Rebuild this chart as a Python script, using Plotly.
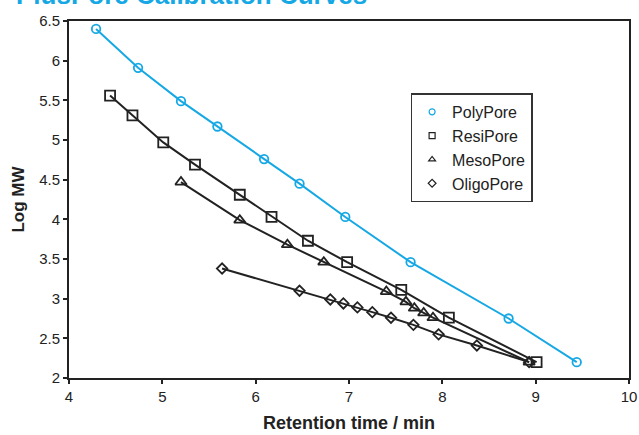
import plotly.graph_objects as go

# Data
poly_x = [4.29, 4.74, 5.20, 5.59, 6.09, 6.47, 6.96, 7.66, 8.71, 9.44]
poly_y = [6.40, 5.91, 5.49, 5.17, 4.76, 4.45, 4.03, 3.46, 2.75, 2.20]

resi_x = [4.44, 4.68, 5.01, 5.35, 5.83, 6.17, 6.56, 6.98, 7.56, 8.07, 9.01]
resi_y = [5.56, 5.31, 4.97, 4.69, 4.31, 4.03, 3.73, 3.46, 3.11, 2.76, 2.20]

meso_x = [5.20, 5.83, 6.34, 6.73, 7.40, 7.61, 7.70, 7.80, 7.90, 8.93]
meso_y = [4.47, 3.99, 3.68, 3.46, 3.09, 2.96, 2.88, 2.82, 2.76, 2.20]

oligo_x = [5.64, 6.47, 6.80, 6.94, 7.09, 7.25, 7.45, 7.69, 7.96, 8.37, 8.93]
oligo_y = [3.38, 3.10, 2.99, 2.94, 2.89, 2.83, 2.76, 2.67, 2.55, 2.41, 2.20]

x_ticks = [4, 5, 6, 7, 8, 9, 10]
y_ticks = [2, 2.5, 3, 3.5, 4, 4.5, 5, 5.5, 6, 6.5]

CYAN = "#16A8E4"
DARK = "#222222"
FONT = "Liberation Sans, Arial, sans-serif"

series = [
    ("PolyPore", poly_x, poly_y, CYAN, "circle-open", 8.5),
    ("ResiPore", resi_x, resi_y, DARK, "square-open", 10),
    ("MesoPore", meso_x, meso_y, DARK, "triangle-up-open", 10),
    ("OligoPore", oligo_x, oligo_y, DARK, "diamond-open", 8),
]

fig = go.Figure()
# draw black series first, cyan on top
for name, xs, ys, col, sym, sz in series[::-1]:
    fig.add_trace(go.Scatter(
        x=xs, y=ys, mode="lines+markers", name=name, showlegend=False,
        line=dict(color=col, width=2),
        marker=dict(symbol=sym, size=sz, color=col, line=dict(color=col, width=1.8)),
    ))
# legend-only entries with small symbols
for name, xs, ys, col, sym, sz in series:
    fig.add_trace(go.Scatter(
        x=[None], y=[None], mode="markers", name=name, showlegend=True,
        marker=dict(symbol=sym, size=6, color=col, line=dict(color=col, width=1.2)),
    ))

fig.update_layout(
    width=639, height=435,
    margin=dict(l=68.5, r=10, t=20.7, b=56.7, autoexpand=False),
    paper_bgcolor="white", plot_bgcolor="white",
    font=dict(family=FONT, size=15, color=DARK),
    showlegend=True,
    legend=dict(
        x=0.61, y=0.797, xanchor="left", yanchor="top",
        bgcolor="white", bordercolor="#333333", borderwidth=1.5,
        font=dict(family=FONT, size=16, color=DARK),
        traceorder="normal", itemwidth=30, tracegroupgap=0,
    ),
    annotations=[dict(
        text="<b>PlusPore Calibration Curves</b>",
        xref="paper", yref="paper", x=-0.099, y=1.072,
        xanchor="left", yanchor="middle", showarrow=False,
        font=dict(family=FONT, size=26, color=CYAN),
    )],
)

fig.update_xaxes(
    range=[4, 10], tickvals=x_ticks, ticktext=[str(v) for v in x_ticks],
    showgrid=False, zeroline=False, automargin=False,
    showline=True, linecolor=DARK, linewidth=2, mirror=True,
    ticks="outside", ticklen=4, tickwidth=1.5, tickcolor=DARK,
    tickfont=dict(family=FONT, size=15, color=DARK),
    title=dict(text="<b>Retention time / min</b>", font=dict(family=FONT, size=18, color=DARK), standoff=12),
)
fig.update_yaxes(
    range=[2, 6.5], tickvals=y_ticks, ticktext=[f"{v:g}" for v in y_ticks],
    showgrid=False, zeroline=False, automargin=False,
    showline=True, linecolor=DARK, linewidth=2, mirror=True,
    ticks="outside", ticklen=4, tickwidth=1.5, tickcolor=DARK,
    tickfont=dict(family=FONT, size=15, color=DARK),
    title=dict(text="<b>Log MW</b>", font=dict(family=FONT, size=17, color=DARK), standoff=10),
)

fig.write_html("out.html")
